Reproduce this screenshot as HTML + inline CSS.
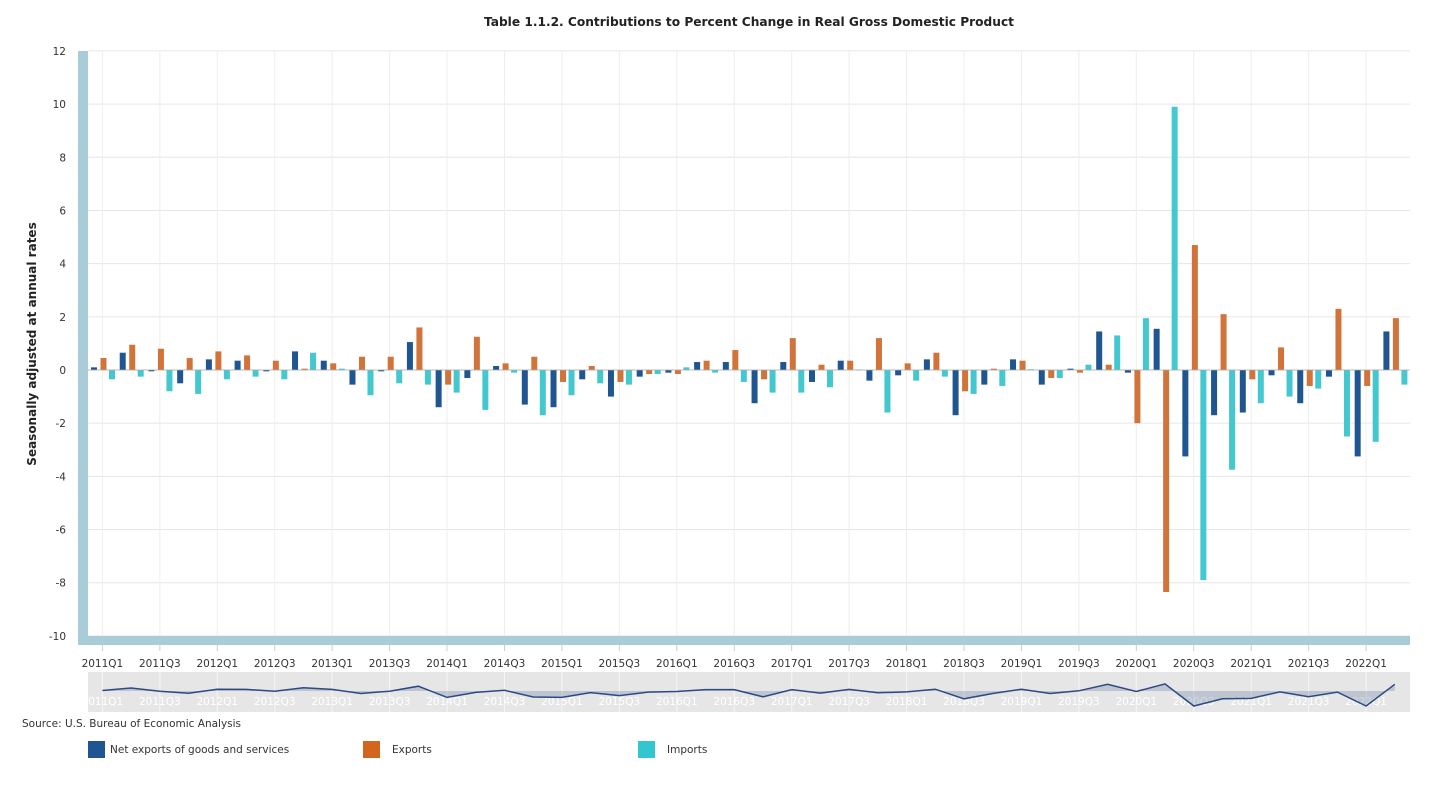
<!DOCTYPE html>
<html><head><meta charset="utf-8"><style>
body{margin:0;background:#fff;font-family:"DejaVu Sans","Liberation Sans",sans-serif}
</style></head><body>
<svg id="s" width="1429" height="787" xmlns="http://www.w3.org/2000/svg" font-family="DejaVu Sans, Liberation Sans, sans-serif"></svg>
<script>
const net=[0.1,0.65,-0.05,-0.5,0.4,0.35,-0.05,0.7,0.35,-0.55,-0.05,1.05,-1.4,-0.3,0.15,-1.3,-1.4,-0.35,-1.0,-0.25,-0.1,0.3,0.3,-1.25,0.3,-0.45,0.35,-0.4,-0.2,0.4,-1.7,-0.55,0.4,-0.55,0.05,1.45,-0.1,1.55,-3.25,-1.7,-1.6,-0.2,-1.25,-0.25,-3.25,1.45];
const exp=[0.45,0.95,0.8,0.45,0.7,0.55,0.35,0.05,0.25,0.5,0.5,1.6,-0.55,1.25,0.25,0.5,-0.45,0.15,-0.45,-0.15,-0.15,0.35,0.75,-0.35,1.2,0.2,0.35,1.2,0.25,0.65,-0.8,0.05,0.35,-0.3,-0.1,0.2,-2.0,-8.35,4.7,2.1,-0.35,0.85,-0.6,2.3,-0.6,1.95];
const imp=[-0.35,-0.25,-0.8,-0.9,-0.35,-0.25,-0.35,0.65,0.05,-0.95,-0.5,-0.55,-0.85,-1.5,-0.1,-1.7,-0.95,-0.5,-0.55,-0.15,0.1,-0.1,-0.45,-0.85,-0.85,-0.65,0.02,-1.6,-0.4,-0.25,-0.9,-0.6,0.03,-0.3,0.2,1.3,1.95,9.9,-7.9,-3.75,-1.25,-1.0,-0.7,-2.5,-2.7,-0.55];
let h='';
const Y=v=>370-v*26.59, X0=88, W=28.72;
h+=`<text x="749" y="26" text-anchor="middle" font-size="12.2" font-weight="bold" fill="#222">Table 1.1.2. Contributions to Percent Change in Real Gross Domestic Product</text>`;
for(let v=-10;v<=12;v+=2){const y=Y(v);h+=`<line x1="88" x2="1410" y1="${y}" y2="${y}" stroke="#e6e6e6"/><text x="66" y="${y+4}" text-anchor="end" font-size="10.5" fill="#333">${v}</text>`;}
const labs=[];
for(let i=0;i<46;i+=2){const x=X0+i*W+14.4;const yr=2011+Math.floor(i/4),q=(i%4)+1;labs.push([x,yr+'Q'+q]);
h+=`<line x1="${x}" x2="${x}" y1="51" y2="636" stroke="#eeeeee"/><line x1="${x}" x2="${x}" y1="645" y2="651" stroke="#ccc"/><text x="${x}" y="667" text-anchor="middle" font-size="10.5" fill="#333">${yr}Q${q}</text>`;}
h+=`<rect x="78" y="51" width="10" height="594" fill="#a9cdd8"/><rect x="88" y="636" width="1322" height="9" fill="#a9cdd8"/>`;
const bar=(v,x,c)=>{const y=Y(Math.max(v,0)),hh=Math.abs(v)*26.59;return `<rect x="${x}" y="${y}" width="6" height="${Math.max(hh,0.8)}" fill="${c}"/>`;};
for(let i=0;i<46;i++){const x=X0+i*W;h+=bar(net[i],x+3,'#1f5591')+bar(exp[i],x+12.5,'#d2733a')+bar(imp[i],x+21,'#44c8d0');}
h+=`<line x1="88" x2="1410" y1="370" y2="370" stroke="#aaa" stroke-width="0.8"/>`;
h+=`<text transform="translate(36,344) rotate(-90)" text-anchor="middle" font-size="12" font-weight="bold" fill="#222">Seasonally adjusted at annual rates</text>`;
h+=`<rect x="88" y="672" width="1322" height="40" fill="#e6e6e6"/>`;
labs.forEach(([x,t])=>{h+=`<line x1="${x}" x2="${x}" y1="672" y2="712" stroke="#f6f6f6"/><text x="${x}" y="705" text-anchor="middle" font-size="10.5" fill="#fff">${t}</text>`;});
let pts=net.map((v,i)=>`${(X0+i*W+14.4).toFixed(1)},${(691-v*4.6).toFixed(1)}`);
h+=`<polygon points="${X0+14.4},691 ${pts.join(' ')} ${X0+45*W+14.4},691" fill="#1f3f7a" fill-opacity="0.2"/><polyline points="${pts.join(' ')}" fill="none" stroke="#2c4a85" stroke-width="1.5"/>`;
h+=`<text x="22" y="727" font-size="10.5" fill="#333">Source: U.S. Bureau of Economic Analysis</text>`;
const leg=[[88,'#1f5591','Net exports of goods and services'],[363,'#d2661e','Exports'],[638,'#33c6d0','Imports']];
leg.forEach(([x,c,t])=>{h+=`<rect x="${x}" y="741" width="17" height="17" fill="${c}"/><text x="${x+22+(x>100?7:0)}" y="753" font-size="10.5" fill="#333">${t}</text>`;});
document.getElementById('s').innerHTML=h;
</script>
</body></html>
